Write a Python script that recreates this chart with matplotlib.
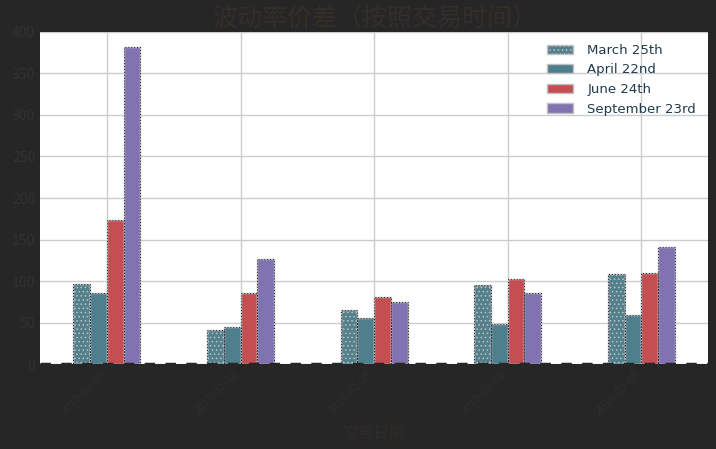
import matplotlib
matplotlib.use("Agg")
import matplotlib.pyplot as plt
import numpy as np

plt.rcParams['font.family'] = ['Noto Sans CJK SC', 'DejaVu Sans']
plt.rcParams['hatch.color'] = "#8a78b8"
plt.rcParams['hatch.linewidth'] = 0.6

dates = ["2015-02-09", "2015-02-16", "2015-02-25", "2015-03-02", "2015-03-09"]
series_names = ["March 25th", "April 22nd", "June 24th", "September 23rd"]
march = [96, 41, 65, 95, 109]
april = [86, 45, 55, 48, 59]
june = [174, 86, 81, 103, 110]
september = [382, 126, 75, 86, 141]
values = [march, april, june, september]

colors = ["#52818d", "#4e7f8c", "#c44e52", "#8172b2"]
hatches = ["....", None, None, None]

fig = plt.figure(figsize=(7.16, 4.49), dpi=100, facecolor="#262626")
ax = fig.add_axes([0.056, 0.189, 0.933, 0.740])
ax.set_facecolor("white")

x = np.arange(len(dates))
w = 0.5 / 4
for i, (name, vals) in enumerate(zip(series_names, values)):
    bars = ax.bar(x - 0.25 + w * (i + 0.5), vals, width=w, color=colors[i],
                  edgecolor="#c0c0c0", linewidth=1.0, label=name, zorder=3)
    if hatches[i]:
        for b in bars:
            b.set_hatch(hatches[i])
    ax.bar(x - 0.25 + w * (i + 0.5), vals, width=w, fill=False,
           edgecolor="#1a1a2a", linestyle=(0, (1, 2)), linewidth=0.7, zorder=4)

ax.axhline(0, color="#262626", linestyle=(0, (3, 3)), linewidth=2.5, zorder=5)

ax.set_xlim(-0.5, 4.5)
ax.set_ylim(0, 400)
ax.set_yticks(np.arange(0, 401, 50))
ax.set_xticks(x)
ax.set_xticklabels(dates, rotation=45, ha="right", fontsize=8, color="#2e2e2e")
ax.tick_params(axis="y", labelsize=10, labelcolor="#313131", length=0)
ax.tick_params(axis="x", length=0)
ax.grid(True, color="#cccccc", linewidth=1.0, zorder=0)
ax.set_axisbelow(True)
for s in ax.spines.values():
    s.set_visible(False)

ax.set_title("波动率价差（按照交易时间）", fontsize=18, color="#342e29", pad=4)
ax.set_xlabel("交易日期", fontsize=11, color="#302c28", labelpad=6)

leg = ax.legend(loc="upper right", frameon=False, fontsize=9.5,
                handlelength=2.0, handletextpad=1.1, borderaxespad=0.5,
                labelspacing=0.5)
for t in leg.get_texts():
    t.set_color("#1f3a4d")
    t.set_family(["DejaVu Sans"])

fig.savefig("out.png", dpi=100, facecolor=fig.get_facecolor())
